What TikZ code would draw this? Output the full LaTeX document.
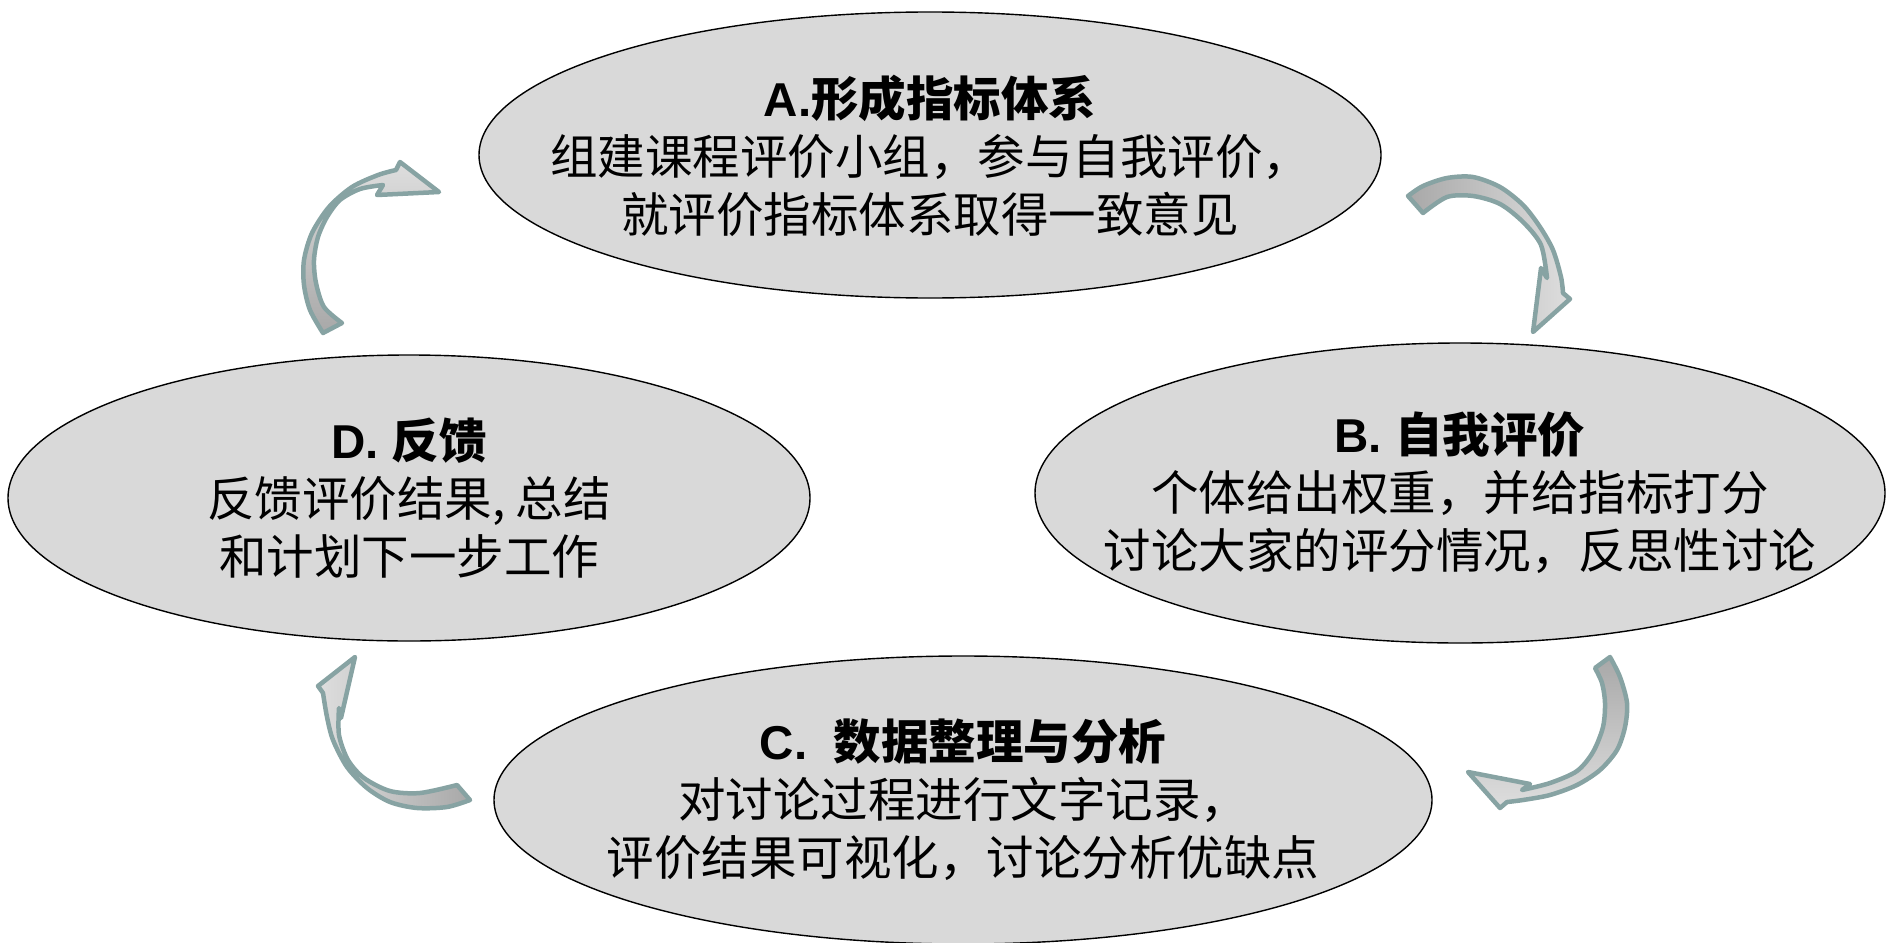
\documentclass[tikz,border=0pt]{standalone}
\usepackage{fontspec}
\setmainfont{Noto Sans CJK SC}
\newfontfamily\latf{Liberation Sans}
\usetikzlibrary{shapes.geometric}
\definecolor{ellfill}{HTML}{D9D9D9}
\definecolor{arrline}{HTML}{87A3A3}
\definecolor{arrdark}{HTML}{A8A8A8}
\definecolor{arrlight}{HTML}{DEDEDE}
\tikzset{
 ellip/.style={ellipse, draw=black, line width=1.4pt, fill=ellfill, inner sep=0pt},
 txt/.style={align=center, font=\fontsize{47.5}{58}\selectfont, inner sep=0pt},
 bendarrow/.style={draw=arrline, line width=4.5pt, line join=round},
}
\newcommand\ttl[2]{{\bfseries\latf #1}{\bfseries #2}}
\begin{document}
\begin{tikzpicture}[x=1pt,y=-1pt]
\useasboundingbox (0,0) rectangle (1886,942);
% ellipses
\node[ellip, minimum width=902pt, minimum height=286pt] (A) at (930,155) {};
\node[ellip, minimum width=850pt, minimum height=300pt] (B) at (1460,493) {};
\node[ellip, minimum width=938pt, minimum height=288pt] (C) at (963,800) {};
\node[ellip, minimum width=802pt, minimum height=286pt] (D) at (409,498) {};
% texts
\node[txt] (At) at ([yshift=-1pt]A.center) {\ttl{A.}{形成指标体系}\\组建课程评价小组，参与自我评价，\\就评价指标体系取得一致意见};
\node[txt] (Bt) at (B.center) {\ttl{B. }{自我评价}\\个体给出权重，并给指标打分\\讨论大家的评分情况，反思性讨论};
\node[txt] (Ct) at (C.center) {\ttl{C.\ \ }{数据整理与分析}\\对讨论过程进行文字记录，\\评价结果可视化，讨论分析优缺点};
\node[txt] (Dt) at (D.center) {\ttl{D. }{反馈}\\反馈评价结果, 总结\\和计划下一步工作};
% arrow D -> A
\shade[bendarrow, top color=arrlight, bottom color=arrdark]
 (323,333) -- plot[smooth] coordinates {(323,333) (310,310) (304,285) (304,260) (312,233) (329,207) (352,187) (378,175) (396,170)}
 -- (400,162) -- (439,192) -- (377,195) -- (383,185)
 -- plot[smooth] coordinates {(383,185) (360,189) (340,200) (327,217) (318,237) (314,260) (316,283) (324,307) (342,323)} -- cycle;
% arrow A -> B
\shade[bendarrow, left color=arrdark, right color=arrlight]
 (1408,196) -- plot[smooth] coordinates {(1408,196) (1423,186) (1447,178) (1473,177) (1500,187) (1523,205) (1540,227) (1553,250) (1561,277) (1563,293)}
 -- (1570,299) -- (1533,332) -- (1541,268) -- (1547,278)
 -- plot[smooth] coordinates {(1547,278) (1541,245) (1523,222) (1500,204) (1473,196) (1447,197) (1423,213)} -- cycle;
% arrow B -> C
\shade[bendarrow, top color=arrdark, bottom color=arrlight]
 (1595,668) -- plot[smooth] coordinates {(1610,657) (1620,677) (1627,703) (1625,727) (1617,750) (1600,770) (1577,785) (1550,795) (1523,800) (1507,802)}
 -- (1500,808) -- (1468,772) -- (1530,784) -- (1522,790)
 -- plot[smooth] coordinates {(1522,790) (1550,783) (1577,771) (1593,752) (1603,727) (1605,703) (1602,683) (1595,668)} -- cycle;
% arrow C -> D
\shade[bendarrow, right color=arrdark, left color=arrlight]
 (457,785) -- plot[smooth] coordinates {(470,800) (447,807) (417,808) (390,802) (367,788) (347,767) (333,740) (327,717) (323,693)}
 -- (318,686) -- (355,657) -- (341,718) -- (339,708)
 -- plot[smooth] coordinates {(339,708) (339,735) (348,760) (364,778) (390,791) (420,793) (457,785)} -- cycle;
\end{tikzpicture}
\end{document}
